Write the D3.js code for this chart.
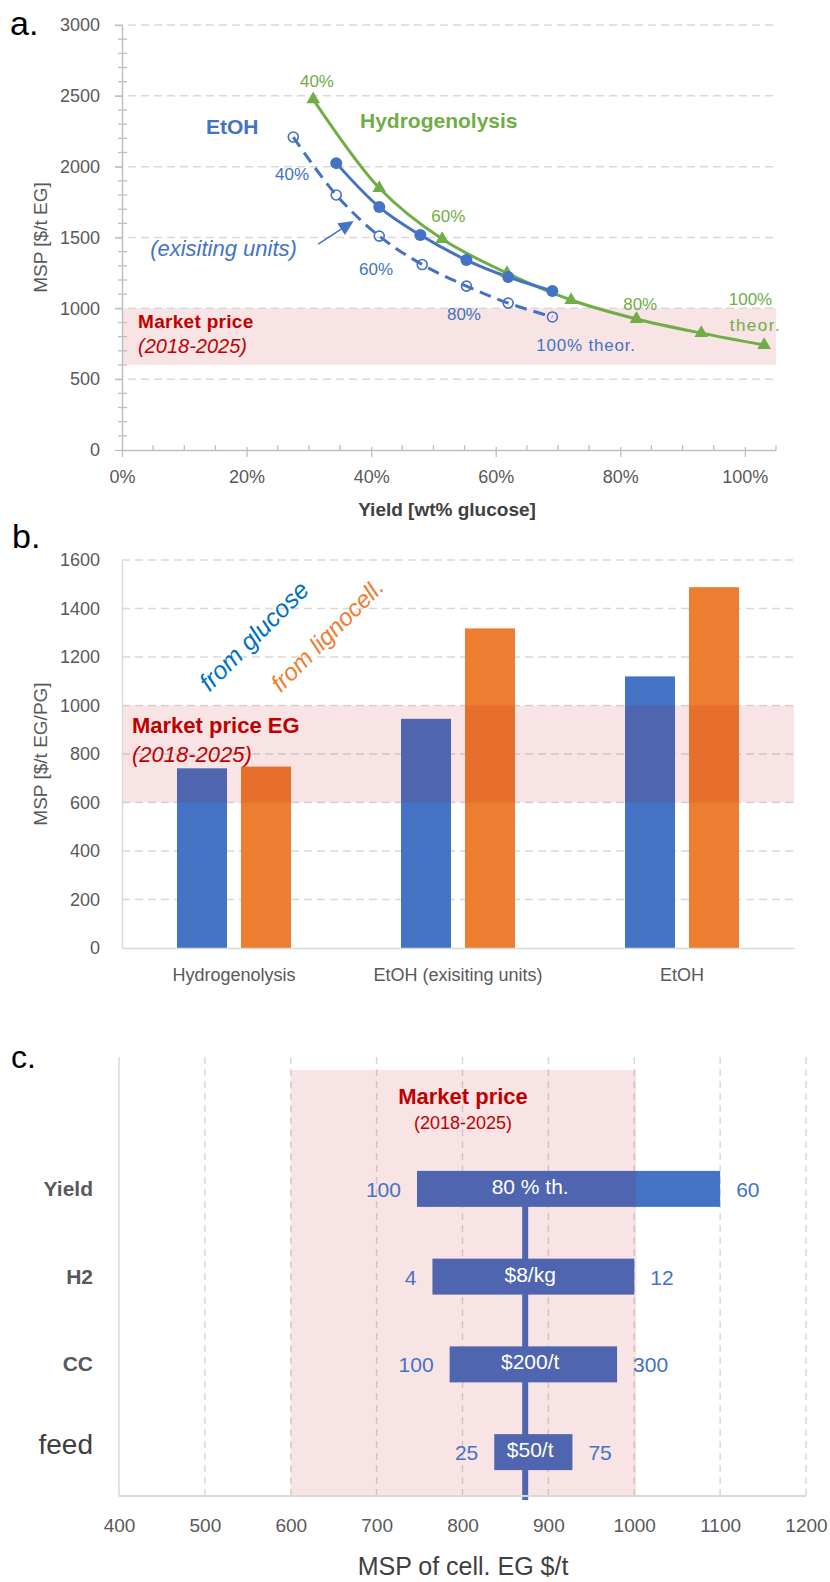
<!DOCTYPE html>
<html>
<head>
<meta charset="utf-8">
<script src="https://cdn.jsdelivr.net/npm/d3@7"></script>
<style>
  body { margin: 0; background: #fff; }
  svg { display: block; font-family: "Liberation Sans", Arial, sans-serif; }
</style>
</head>
<body>
<svg id="fig" width="830" height="1582"></svg>
<script>
// ---------- data ----------
// a. MSP versus yield
const hydroYield = [0.307, 0.413, 0.514, 0.618, 0.721, 0.826, 0.930, 1.031];
const hydroMSP   = [2475, 1849, 1489, 1249, 1059, 925, 825, 741];
const etohYield  = [0.344, 0.413, 0.479, 0.553, 0.620, 0.691];
const etohMSP    = [2025, 1715, 1517, 1341, 1221, 1122];
const existYield = [0.275, 0.344, 0.413, 0.482, 0.553, 0.620, 0.691];
const existMSP   = [2209, 1800, 1510, 1309, 1157, 1037, 939];
const yTicksA = [0, 500, 1000, 1500, 2000, 2500, 3000];
const xTicksA = [0, 0.2, 0.4, 0.6, 0.8, 1.0];

// b. MSP by route and feedstock
const routes       = ["Hydrogenolysis", "EtOH (exisiting units)", "EtOH"];
const feedstocks   = ["glucose", "lignocell"];
const mspGlucose   = [741, 945, 1120];
const mspLignocell = [748, 1318, 1488];
const yTicksB = [0, 200, 400, 600, 800, 1000, 1200, 1400, 1600];

// c. sensitivity of cellulosic EG
const sensFactors   = ["Yield", "H2", "CC", "feed"];
const sensLow       = [747, 765, 785, 837];
const sensHigh      = [1100, 1000, 980, 928];
const sensLowLabel  = ["100", "4", "100", "25"];
const sensHighLabel = ["60", "12", "300", "75"];
const sensBaseLabel = ["80 % th.", "$8/kg", "$200/t", "$50/t"];
const sensBase = 873;
const xTicksC = [400, 500, 600, 700, 800, 900, 1000, 1100, 1200];

// market price of EG, 2018-2025
const marketRange = [600, 1000];

// ---------- styles ----------
const BLUE = "#4472c4", GREEN = "#70ad47", ORANGE = "#ed7d31", RED = "#c00000";
const GREY_TXT = "#595959", AXIS = "#bfbfbf", GRID = "#d9d9d9";
const BAND = "rgba(192,0,0,0.105)";
const FONT = "Liberation Sans, Arial, sans-serif";
const plain = d3.format("d");

const svg = d3.select("#fig");

function txt(g, x, y, s, o = {}) {
  return g.append("text").attr("x", x).attr("y", y).text(s)
    .attr("font-size", o.size || 17)
    .attr("fill", o.fill || GREY_TXT)
    .attr("font-weight", o.bold ? "bold" : null)
    .attr("font-style", o.italic ? "italic" : null)
    .attr("text-anchor", o.anchor || "start")
    .attr("letter-spacing", o.ls || null);
}

// ======================= a. =======================
const gA = svg.append("g");
const xA = d3.scaleLinear().domain([0, 1.05]).range([122, 776]);
const yA = d3.scaleLinear().domain([0, 3000]).range([450, 25]);

// market price band
gA.append("rect")
  .attr("x", xA(0)).attr("width", xA(1.05) - xA(0))
  .attr("y", yA(marketRange[1])).attr("height", yA(marketRange[0]) - yA(marketRange[1]))
  .attr("fill", BAND);

// horizontal grid
gA.append("g").selectAll("line").data(yTicksA.filter(d => d > 0)).join("line")
  .attr("x1", 115).attr("x2", xA(1.05))
  .attr("y1", d => yA(d)).attr("y2", d => yA(d))
  .attr("stroke", GRID).attr("stroke-width", 1.5).attr("stroke-dasharray", "8,5");

// minor ticks
gA.append("g").selectAll("line").data(d3.range(0, 3001, 100).filter(d => d % 500)).join("line")
  .attr("x1", xA(0) - 4).attr("x2", xA(0) + 5)
  .attr("y1", d => yA(d)).attr("y2", d => yA(d))
  .attr("stroke", AXIS).attr("stroke-width", 1.3);
gA.append("g").selectAll("line").data(d3.range(0.05, 1.051, 0.05).filter((d, i) => (i + 1) % 4)).join("line")
  .attr("x1", d => xA(d)).attr("x2", d => xA(d))
  .attr("y1", yA(0) - 5).attr("y2", yA(0))
  .attr("stroke", AXIS).attr("stroke-width", 1.3);

// axes
const axYA = gA.append("g").attr("transform", `translate(${xA(0)},0)`)
  .call(d3.axisLeft(yA).tickValues(yTicksA).tickFormat(plain).tickSize(7).tickPadding(15).tickSizeOuter(0));
const axXA = gA.append("g").attr("transform", `translate(0,${yA(0)})`)
  .call(d3.axisBottom(xA).tickValues(xTicksA).tickFormat(d3.format(".0%")).tickSize(7).tickPadding(13).tickSizeOuter(0));
[axYA, axXA].forEach(ax => {
  ax.select(".domain").attr("stroke", AXIS).attr("stroke-width", 1.5);
  ax.selectAll(".tick line").attr("stroke", AXIS).attr("stroke-width", 1.3);
  ax.selectAll(".tick text").attr("fill", GREY_TXT).attr("font-size", 18).attr("font-family", FONT);
});
axXA.selectAll(".tick line").attr("y1", -3);

// curves
const lineA = d3.line().x(d => xA(d[0])).y(d => yA(d[1])).curve(d3.curveCatmullRom.alpha(0.5));
const hydro = d3.zip(hydroYield, hydroMSP);
const etoh  = d3.zip(etohYield, etohMSP);
const exist = d3.zip(existYield, existMSP);

gA.append("path").datum(exist).attr("d", lineA).attr("fill", "none")
  .attr("stroke", BLUE).attr("stroke-width", 3).attr("stroke-dasharray", "12,7");
gA.append("path").datum(hydro).attr("d", lineA).attr("fill", "none")
  .attr("stroke", GREEN).attr("stroke-width", 3);
gA.append("path").datum(etoh).attr("d", lineA).attr("fill", "none")
  .attr("stroke", BLUE).attr("stroke-width", 3);

// markers
gA.append("g").selectAll("path").data(hydro).join("path")
  .attr("d", d3.symbol(d3.symbolTriangle, 80))
  .attr("transform", d => `translate(${xA(d[0])},${yA(d[1])})`)
  .attr("fill", GREEN);
gA.append("g").selectAll("circle").data(etoh).join("circle")
  .attr("cx", d => xA(d[0])).attr("cy", d => yA(d[1])).attr("r", 6).attr("fill", BLUE);
gA.append("g").selectAll("circle").data(exist).join("circle")
  .attr("cx", d => xA(d[0])).attr("cy", d => yA(d[1])).attr("r", 5)
  .attr("fill", "none").attr("stroke", BLUE).attr("stroke-width", 1.6);

// arrow towards the dashed curve
{
  const s = [xA(0.315), yA(1454)], t = [xA(0.372), yA(1617)];
  const dx = t[0] - s[0], dy = t[1] - s[1], L = Math.hypot(dx, dy);
  const ux = dx / L, uy = dy / L, nx = -uy, ny = ux;
  const bx = t[0] - 15 * ux, by = t[1] - 15 * uy;
  gA.append("line").attr("x1", s[0]).attr("y1", s[1]).attr("x2", bx).attr("y2", by)
    .attr("stroke", BLUE).attr("stroke-width", 1.5);
  gA.append("path")
    .attr("d", `M${t[0]},${t[1]}L${bx + 7 * nx},${by + 7 * ny}L${bx - 7 * nx},${by - 7 * ny}Z`)
    .attr("fill", BLUE);
}

// annotations
txt(gA, 10, 35, "a.", { size: 34, fill: "#000" });
txt(gA, xA(0.177), yA(2230), "EtOH", { size: 21, bold: true, fill: BLUE, anchor: "middle" });
txt(gA, 360, yA(2270), "Hydrogenolysis", { size: 21, bold: true, fill: GREEN });
txt(gA, xA(0.163), yA(1370), "(exisiting units)", { size: 22, italic: true, fill: BLUE, anchor: "middle" });
txt(gA, xA(0.313), yA(2562), "40%", { fill: GREEN, anchor: "middle" });
txt(gA, xA(0.524), yA(1609), "60%", { fill: GREEN, anchor: "middle" });
txt(gA, xA(0.832), yA(988), "80%", { fill: GREEN, anchor: "middle" });
txt(gA, xA(1.009), yA(1024), "100%", { fill: GREEN, anchor: "middle" });
txt(gA, xA(1.017), yA(840), "theor.", { fill: GREEN, anchor: "middle", ls: 1.5 });
txt(gA, xA(0.273), yA(1906), "40%", { fill: BLUE, anchor: "middle" });
txt(gA, xA(0.408), yA(1235), "60%", { fill: BLUE, anchor: "middle" });
txt(gA, xA(0.549), yA(918), "80%", { fill: BLUE, anchor: "middle" });
txt(gA, xA(0.745), yA(699), "100% theor.", { fill: BLUE, anchor: "middle", ls: 0.8 });
txt(gA, 138, yA(862), "Market price", { size: 19, bold: true, fill: RED, ls: 0.3 });
txt(gA, 138, yA(685), "(2018-2025)", { size: 20, italic: true, fill: RED });

txt(gA, 0, 0, "MSP [$/t EG]", { size: 19, anchor: "middle" })
  .attr("transform", `translate(47,${(yA(0) + yA(3000)) / 2}) rotate(-90)`);
txt(gA, (xA(0) + xA(1.05)) / 2 - 2, 516, "Yield [wt% glucose]", { size: 19, bold: true, fill: "#404040", anchor: "middle" });

// ======================= b. =======================
const gB = svg.append("g");
const xB = d3.scaleBand().domain(routes).range([122, 794]);
const xB1 = d3.scaleBand().domain(feedstocks).range([0, 114]).paddingInner(14 / 64);
const yB = d3.scaleLinear().domain([0, 1600]).range([948, 560]);

gB.append("g").selectAll("line").data(yTicksB.filter(d => d > 0)).join("line")
  .attr("x1", 122).attr("x2", 794)
  .attr("y1", d => yB(d)).attr("y2", d => yB(d))
  .attr("stroke", GRID).attr("stroke-width", 1.5).attr("stroke-dasharray", "8,5");

const barRows = routes.map((r, i) => ({ route: r, vals: [mspGlucose[i], mspLignocell[i]] }));
const groups = gB.append("g").selectAll("g").data(barRows).join("g")
  .attr("transform", d => `translate(${xB(d.route) + (xB.bandwidth() - 114) / 2},0)`);
groups.selectAll("rect").data(d => d.vals.map((v, j) => ({ key: feedstocks[j], v }))).join("rect")
  .attr("x", d => xB1(d.key)).attr("width", xB1.bandwidth())
  .attr("y", d => yB(d.v)).attr("height", d => yB(0) - yB(d.v))
  .attr("fill", d => d.key === "glucose" ? BLUE : ORANGE);

// market band on top of bars
gB.append("rect")
  .attr("x", 122).attr("width", 672)
  .attr("y", yB(marketRange[1])).attr("height", yB(marketRange[0]) - yB(marketRange[1]))
  .attr("fill", BAND);

const axYB = gB.append("g").attr("transform", "translate(122,0)")
  .call(d3.axisLeft(yB).tickValues(yTicksB).tickFormat(plain).tickSize(0).tickPadding(22));
const axXB = gB.append("g").attr("transform", `translate(0,${yB(0)})`)
  .call(d3.axisBottom(xB).tickSize(0).tickPadding(20));
[axYB, axXB].forEach(ax => {
  ax.select(".domain").attr("stroke", GRID).attr("stroke-width", 1.5);
  ax.selectAll(".tick text").attr("fill", GREY_TXT).attr("font-size", 18).attr("font-family", FONT);
});

txt(gB, 12, 548, "b.", { size: 34, fill: "#000" });
txt(gB, 0, 0, "MSP [$/t EG/PG]", { size: 19, anchor: "middle" })
  .attr("transform", `translate(47,${(yB(0) + yB(1600)) / 2}) rotate(-90)`);
txt(gB, 0, 0, "from glucose", { size: 25, italic: true, fill: "#0070c0", anchor: "middle" })
  .attr("transform", "translate(260,642) rotate(-45)");
txt(gB, 0, 0, "from lignocell.", { size: 24, italic: true, fill: ORANGE, anchor: "middle" })
  .attr("transform", "translate(333,641) rotate(-45)");
txt(gB, 132, 733, "Market price EG", { size: 22, bold: true, fill: RED });
txt(gB, 132, 762, "(2018-2025)", { size: 22, italic: true, fill: RED });

// ======================= c. =======================
const gC = svg.append("g");
const xC = d3.scaleLinear().domain([400, 1200]).range([119, 806]);
const yC = d3.scaleBand().domain(sensFactors).range([1145, 1496]).paddingInner(0.59).paddingOuter(0.295);
const topC = 1057, botC = 1496;

gC.append("g").selectAll("line").data(xTicksC.filter(d => d > 400)).join("line")
  .attr("x1", d => xC(d)).attr("x2", d => xC(d))
  .attr("y1", topC).attr("y2", botC)
  .attr("stroke", GRID).attr("stroke-width", 1.5).attr("stroke-dasharray", "7,5");
gC.append("line").attr("x1", xC(400)).attr("x2", xC(400)).attr("y1", topC).attr("y2", botC)
  .attr("stroke", GRID).attr("stroke-width", 1.5);

// base-case line
gC.append("line").attr("x1", xC(sensBase)).attr("x2", xC(sensBase))
  .attr("y1", yC(sensFactors[0]) + yC.bandwidth() / 2).attr("y2", botC + 4)
  .attr("stroke", BLUE).attr("stroke-width", 6);

const rowsC = sensFactors.map((f, i) => ({
  f, lo: sensLow[i], hi: sensHigh[i], loL: sensLowLabel[i], hiL: sensHighLabel[i], baseL: sensBaseLabel[i]
}));
gC.append("g").selectAll("rect").data(rowsC).join("rect")
  .attr("x", d => xC(d.lo)).attr("width", d => xC(d.hi) - xC(d.lo))
  .attr("y", d => yC(d.f)).attr("height", yC.bandwidth())
  .attr("fill", BLUE);

gC.append("rect")
  .attr("x", xC(marketRange[0])).attr("width", xC(marketRange[1]) - xC(marketRange[0]) + 2)
  .attr("y", 1070).attr("height", botC - 1070)
  .attr("fill", BAND);

gC.append("line").attr("x1", xC(400)).attr("x2", xC(1200)).attr("y1", botC).attr("y2", botC)
  .attr("stroke", GRID).attr("stroke-width", 2);

const axXC = gC.append("g").attr("transform", `translate(0,${botC})`)
  .call(d3.axisBottom(xC).tickValues(xTicksC).tickFormat(plain).tickSize(0).tickPadding(23));
axXC.select(".domain").remove();
axXC.selectAll(".tick text").attr("fill", GREY_TXT).attr("font-size", 19).attr("font-family", FONT);

rowsC.forEach(d => {
  const cy = yC(d.f) + yC.bandwidth() / 2;
  txt(gC, xC(d.lo) - 16, cy + 8, d.loL, { size: 21, fill: BLUE, anchor: "end" });
  txt(gC, xC(d.hi) + 16, cy + 8, d.hiL, { size: 21, fill: BLUE });
  txt(gC, xC(sensBase) + 5, cy + 5, d.baseL, { size: 21, fill: "#fff", anchor: "middle" });
  if (d.f === "feed") {
    txt(gC, 93, cy + 2, d.f, { size: 28, fill: "#404040", anchor: "end" });
  } else {
    txt(gC, 93, cy + 7, d.f, { size: 21, bold: true, fill: GREY_TXT, anchor: "end" });
  }
});

txt(gC, 11, 1068, "c.", { size: 32, fill: "#000" });
txt(gC, 463, 1104, "Market price", { size: 22, bold: true, fill: RED, anchor: "middle" });
txt(gC, 463, 1129, "(2018-2025)", { size: 18, fill: RED, anchor: "middle" });
txt(gC, 463, 1575, "MSP of cell. EG $/t", { size: 25, fill: "#404040", anchor: "middle" });
</script>
</body>
</html>
